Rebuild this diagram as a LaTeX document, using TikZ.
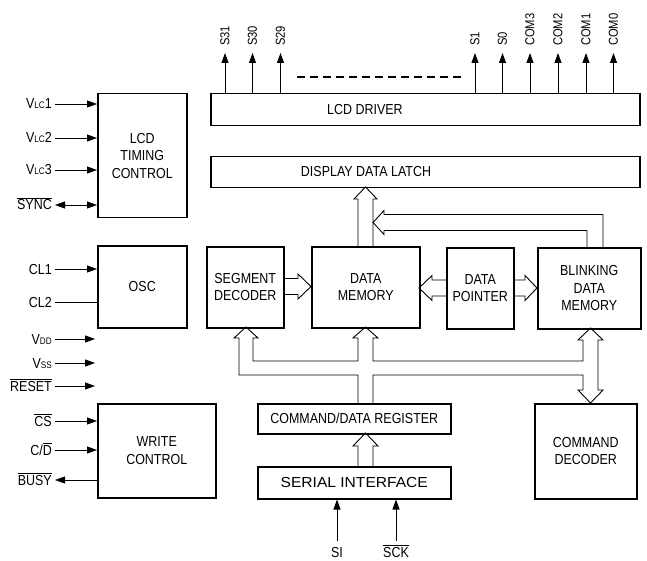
\documentclass[tikz,border=0pt]{standalone}
\usepackage{fontspec}
\setmainfont{Liberation Sans}[FakeStretch=0.86]
\usetikzlibrary{arrows.meta,calc}
\newcommand\ovl[1]{$\overline{\hbox{#1}}$}
\newcommand\smx[1]{{\fontsize{9.5}{9.5}\selectfont #1}}
\begin{document}
\begin{tikzpicture}[x=1pt,y=-1pt,
  box/.style={draw,line width=1.5pt,rectangle,inner sep=0pt,anchor=north west,align=center,font=\fontsize{14.5}{17.5}\selectfont},
  lbl/.style={inner sep=0pt,font=\fontsize{14.5}{17}\selectfont},
  toplbl/.style={inner sep=0pt,font=\fontsize{13}{15}\selectfont,rotate=90,anchor=west},
  pin/.style={line width=0.9pt,-{Triangle[length=10pt,width=7pt]}},
  pinb/.style={line width=0.9pt,{Triangle[length=10pt,width=7pt]}-{Triangle[length=10pt,width=7pt]}},
  plain/.style={line width=0.9pt},
  hol/.style={line width=0.9pt,line join=miter},
]
\useasboundingbox (0,0) rectangle (647,561);

% ---- boxes
\node[box,minimum width=89pt,minimum height=124pt] (tim) at (97,93) {LCD\\TIMING\\CONTROL};
\node[box,minimum width=89pt,minimum height=82pt] (osc) at (97,245) {OSC};
\node[box,minimum width=118pt,minimum height=94pt] (wc) at (97,403) {WRITE\\CONTROL};
\node[box,minimum width=429pt,minimum height=32pt] (drv) at (210,93) {};
\node[lbl] (drvt) at (365,110) {LCD DRIVER};
\node[box,minimum width=429pt,minimum height=31pt] (lat) at (210,156) {};
\node[lbl] (latt) at (366,172) {DISPLAY DATA LATCH};
\node[box,minimum width=77pt,minimum height=81pt] (seg) at (206,246) {SEGMENT\\DECODER};
\node[box,minimum width=108pt,minimum height=81pt] (dm) at (311,246) {DATA\\MEMORY};
\node[box,minimum width=67pt,minimum height=81pt] (dp) at (446,247) {DATA\\POINTER};
\node[box,minimum width=103pt,minimum height=81pt] (bdm) at (537,247) {BLINKING\\DATA\\MEMORY};
\node[box,minimum width=193pt,minimum height=30pt] (cdr) at (257,403) {COMMAND/DATA REGISTER};
\node[box,minimum width=193pt,minimum height=32pt] (sif) at (257,466) {\scalebox{1.25}[1]{SERIAL INTERFACE}};
\node[box,minimum width=102pt,minimum height=95pt] (cd) at (534,403) {COMMAND\\DECODER};

% ---- top pins
\foreach \x/\t/\n in {225/S31/p1,252.5/S30/p2,280.5/S29/p3,475/S1/p4,502.5/S0/p5,530/COM3/p6,558/COM2/p7,586/COM1/p8,613.5/COM0/p9}{
  \coordinate (\n) at (\x,53);
  \node[toplbl] (\n l) at (\x,46) {\t};
  \draw[pin] (drv.north -| \n) -- (\n);
}
\coordinate (d1) at (297,77);
\coordinate (d2) at (463,77);
\draw[line width=1.2pt,dash pattern=on 8pt off 5pt] (d1) -- (d2);

% ---- left pins
\foreach \y/\t/\n in {104/{V\smx{LC}1}/a1,138/{V\smx{LC}2}/a2,170/{V\smx{LC}3}/a3,205/{\ovl{SYNC}}/a4,
                     269/{CL1}/b1,302/{CL2}/b2,339/{V\smx{DD}}/c1,363/{V\smx{SS}}/c2,386/{\ovl{RESET}}/c3,
                     421/{\ovl{CS}}/e1,450/{C/\ovl{D}}/e2,480/{\ovl{BUSY}}/e3}{
  \node[lbl,anchor=base east] (\n l) at (52,\y+5) {\t};
  \coordinate (\n) at (55,\y);
}
\draw[pin] (a1) -- (a1 -| tim.west);
\draw[pin] (a2) -- (a2 -| tim.west);
\draw[pin] (a3) -- (a3 -| tim.west);
\draw[pinb] (a4) -- (a4 -| tim.west);
\draw[pin] (b1) -- (b1 -| osc.west);
\draw[plain] (b2) -- (b2 -| osc.west);
\coordinate (c1e) at (95,339);
\coordinate (c2e) at (95,363);
\coordinate (c3e) at (95,386);
\draw[pin] (c1) -- (c1e);
\draw[pin] (c2) -- (c2e);
\draw[pin] (c3) -- (c3e);
\draw[pin] (e1) -- (e1 -| wc.west);
\draw[pin] (e2) -- (e2 -| wc.west);
\draw[pin] (e3 -| wc.west) -- (e3);

% ---- bottom pins
\node[lbl,anchor=base] (sil) at (337,557) {SI};
\node[lbl,anchor=base] (sckl) at (396,557) {\ovl{SCK}};
\coordinate (sis) at (337,541);
\coordinate (scks) at (396,541);
\draw[pin] (sis) -- (sis |- sif.south);
\draw[pin] (scks) -- (scks |- sif.south);

% ---- hollow arrows
% data memory -> display data latch
\draw[hol] (358,246) -- (358,199) -- (354,199) -- (365.5,187) -- (377,199) -- (373,199) -- (373,246);
% blinking data memory -> latch bus
\draw[hol] (603,247) -- (603,214.5) -- (384,214.5) -- (384,210.5) -- (373,222.5) -- (384,234.5) -- (384,230.5) -- (587,230.5) -- (587,247);
% segment decoder -> data memory
\draw[hol] (283,278.5) -- (298,278.5) -- (298,274) -- (311,286.5) -- (298,299) -- (298,294.5) -- (283,294.5);
% data pointer -> data memory
\draw[hol] (446,280) -- (432,280) -- (432,275.5) -- (419,288) -- (432,300.5) -- (432,296) -- (446,296);
% data pointer -> blinking data memory
\draw[hol] (513,280) -- (525,280) -- (525,275.5) -- (537,288) -- (525,300.5) -- (525,296) -- (513,296);
% bus from command/data register
\draw[hol] (358,403) -- (358,375) -- (239,375) -- (239,338) -- (234,338) -- (246,327) -- (258,338) -- (253,338)
  -- (253,361) -- (358,361) -- (358,338) -- (353,338) -- (365.5,327) -- (378,338) -- (373,338)
  -- (373,361) -- (583,361) -- (583,340) -- (578,340) -- (590.5,328) -- (603,340) -- (598,340)
  -- (598,390) -- (603,390) -- (590.5,403) -- (578,390) -- (583,390) -- (583,375) -- (373,375) -- (373,403);
% serial interface -> command/data register
\draw[hol] (358,466) -- (358,446) -- (353,446) -- (365.5,433) -- (378,446) -- (373,446) -- (373,466);
\end{tikzpicture}
\end{document}
